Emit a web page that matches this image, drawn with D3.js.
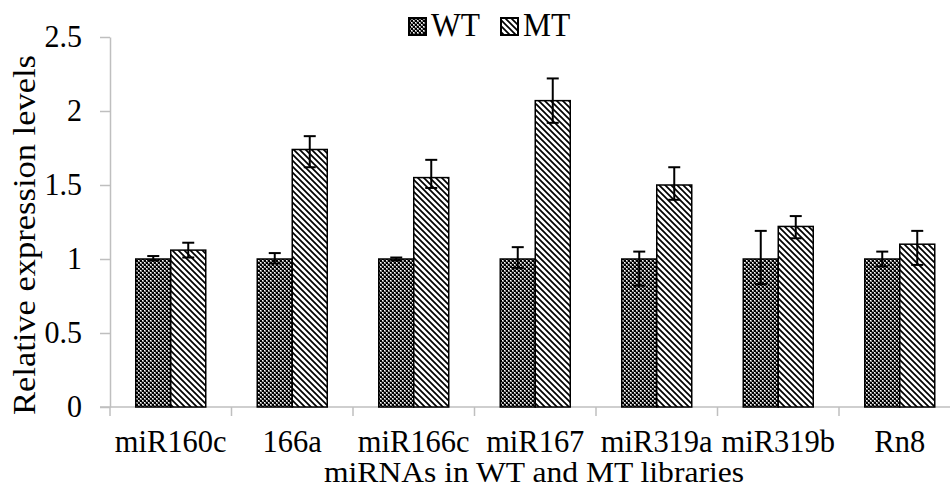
<!DOCTYPE html>
<html>
<head>
<meta charset="utf-8">
<title>Relative expression levels</title>
<script src="https://d3js.org/d3.v7.min.js"></script>
<style>
    body { margin: 0; background: #fff; }
    svg text { font-family: "Liberation Serif", "Times New Roman", serif; fill: #000; }
</style>
</head>
<body>
<svg id="chart" width="950" height="487"></svg>
<script>
    // data
    var categories = ["miR160c", "166a", "miR166c", "miR167", "miR319a", "miR319b", "Rn8"];
    var seriesNames = ["WT", "MT"];
    var wtValues = [1.00, 1.00, 1.00, 1.00, 1.00, 1.00, 1.00];
    var mtValues = [1.06, 1.74, 1.55, 2.07, 1.50, 1.22, 1.10];
    var wtErrUp   = [0.02, 0.04, 0.01, 0.08, 0.05, 0.19, 0.05];
    var wtErrDown = [0.01, 0.03, 0.01, 0.06, 0.18, 0.17, 0.05];
    var mtErrUp   = [0.05, 0.09, 0.12, 0.15, 0.12, 0.07, 0.09];
    var mtErrDown = [0.05, 0.12, 0.07, 0.15, 0.10, 0.08, 0.14];
    var yTicks = [0, 0.5, 1, 1.5, 2, 2.5];
    var xTitle = "miRNAs in WT and MT libraries";
    var yTitle = "Relative expression levels";

    var svg = d3.select("#chart");
    var mLeft = 110, mRight = 960.5, mTop = 37, mBottom = 407;
    var barW = 35;
    var sy = 1.06;   // the picture's text looks slightly tall

    var x = d3.scaleBand().domain(categories).range([mLeft, mRight]).padding(0);
    var y = d3.scaleLinear().domain([0, 2.5]).range([mBottom, mTop]);

    function label(g, tx, ty, size, anchor, txt) {
        return g.append("text")
            .attr("transform", "translate(" + tx + "," + ty + ") scale(1," + sy + ")")
            .attr("text-anchor", anchor).attr("font-size", size).text(txt);
    }

    // fill patterns
    var defs = svg.append("defs");
    var chk = defs.append("pattern").attr("id", "pWT")
        .attr("patternUnits", "userSpaceOnUse").attr("width", 4).attr("height", 4);
    chk.append("rect").attr("width", 4).attr("height", 4).attr("fill", "#8c8c8c");
    chk.append("rect").attr("width", 2).attr("height", 2).attr("fill", "#000");
    chk.append("rect").attr("x", 2).attr("y", 2).attr("width", 2).attr("height", 2).attr("fill", "#000");
    chk.append("rect").attr("x", 2).attr("y", 0).attr("width", 1).attr("height", 1).attr("fill", "#fff");
    chk.append("rect").attr("x", 0).attr("y", 2).attr("width", 1).attr("height", 1).attr("fill", "#fff");

    var hat = defs.append("pattern").attr("id", "pMT")
        .attr("patternUnits", "userSpaceOnUse").attr("width", 6).attr("height", 6);
    hat.append("rect").attr("width", 6).attr("height", 6).attr("fill", "#fff");
    hat.append("path").attr("d", "M0,0L6,6M-1,5L1,7M5,-1L7,1")
        .attr("stroke", "#000").attr("stroke-width", 1.7);

    // y axis
    var yAxis = svg.append("g").attr("transform", "translate(" + mLeft + ",0)")
        .call(d3.axisLeft(y).tickValues(yTicks).tickFormat(d3.format("")).tickSize(10).tickSizeOuter(0));
    yAxis.selectAll("line, path").attr("stroke", "#bfbfbf").attr("stroke-width", 1.5);
    yAxis.selectAll("text").remove();
    yTicks.forEach(function(t) {
        label(svg, 82, y(t) + 10, 30, "end", t);
    });

    // x axis line and category separators
    svg.append("line").attr("x1", mLeft - 10).attr("x2", mRight)
        .attr("y1", mBottom).attr("y2", mBottom)
        .attr("stroke", "#bfbfbf").attr("stroke-width", 1.5);
    var seps = categories.map(function(c) { return x(c); });
    svg.selectAll(".sep").data(seps).join("line").attr("class", "sep")
        .attr("x1", d => d).attr("x2", d => d)
        .attr("y1", mBottom).attr("y2", mBottom + 9)
        .attr("stroke", "#bfbfbf").attr("stroke-width", 1.5);

    categories.forEach(function(c) {
        label(svg, x(c) + x.bandwidth() / 2, 452, 30.5, "middle", c);
    });

    // bars
    var rows = [];
    categories.forEach(function(c, i) {
        rows.push({cat: c, s: 0, v: wtValues[i], up: wtErrUp[i], dn: wtErrDown[i]});
        rows.push({cat: c, s: 1, v: mtValues[i], up: mtErrUp[i], dn: mtErrDown[i]});
    });
    var bx = d => x(d.cat) + x.bandwidth() / 2 - barW + d.s * barW;

    svg.selectAll(".bar").data(rows).join("rect").attr("class", "bar")
        .attr("x", bx).attr("y", d => y(d.v))
        .attr("width", barW).attr("height", d => y(0) - y(d.v))
        .attr("fill", d => d.s ? "url(#pMT)" : "url(#pWT)")
        .attr("stroke", "#000").attr("stroke-width", 1.5);

    // error bars
    var eb = svg.selectAll(".err").data(rows).join("g").attr("class", "err")
        .attr("stroke", "#000").attr("stroke-width", 2);
    eb.append("line")
        .attr("x1", d => bx(d) + barW / 2).attr("x2", d => bx(d) + barW / 2)
        .attr("y1", d => y(d.v + d.up)).attr("y2", d => y(d.v - d.dn));
    eb.append("line")
        .attr("x1", d => bx(d) + barW / 2 - 6).attr("x2", d => bx(d) + barW / 2 + 6)
        .attr("y1", d => y(d.v + d.up)).attr("y2", d => y(d.v + d.up));
    eb.append("line")
        .attr("x1", d => bx(d) + barW / 2 - 6).attr("x2", d => bx(d) + barW / 2 + 6)
        .attr("y1", d => y(d.v - d.dn)).attr("y2", d => y(d.v - d.dn));

    // titles
    svg.append("text").attr("x", 534).attr("y", 482)
        .attr("text-anchor", "middle").attr("font-size", 30)
        .attr("textLength", 420).attr("lengthAdjust", "spacingAndGlyphs")
        .text(xTitle);
    svg.append("text").attr("transform", "translate(35,235) rotate(-90)")
        .attr("text-anchor", "middle").attr("font-size", 31.5)
        .attr("textLength", 360).attr("lengthAdjust", "spacingAndGlyphs")
        .text(yTitle);

    // legend
    var leg = svg.append("g").attr("transform", "translate(409,18)");
    var legX = [0, 92];
    seriesNames.forEach(function(n, i) {
        leg.append("rect").attr("x", legX[i]).attr("y", 0).attr("width", 17).attr("height", 17)
            .attr("fill", i ? "url(#pMT)" : "url(#pWT)").attr("stroke", "#000").attr("stroke-width", 2);
        label(leg, legX[i] + 22, 18, 31.5, "start", n);
    });
</script>
</body>
</html>
